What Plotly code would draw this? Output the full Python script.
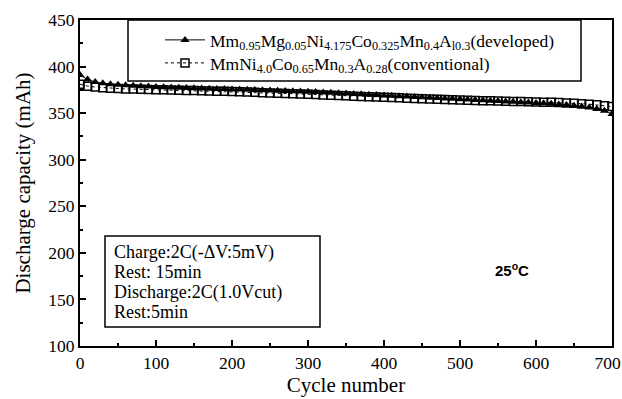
import plotly.graph_objects as go

cycles = list(range(0, 701, 10))

developed = [391, 386, 383.5, 382, 381, 380.5, 380, 379.5, 379, 378.5,
             378, 377.8, 377.5, 377.3, 377, 376.8, 376.5, 376.3, 376, 375.8,
             375.5, 375.3, 375, 374.8, 374.5, 374.3, 374, 373.8, 373.5, 373.2,
             373, 372.6, 372.2, 371.8, 371.4, 371, 370.6, 370.2, 369.8, 369.4,
             369, 368.6, 368.2, 367.8, 367.4, 367, 366.6, 366.2, 365.8, 365.4,
             365, 364.6, 364.2, 363.8, 363.4, 363, 362.6, 362.2, 361.8, 361.4,
             361, 360.5, 360, 359.4, 358.8, 358, 357, 356, 354.5, 352.5, 349]

conventional = [381, 379, 378, 377.3, 376.8, 376.4, 376, 375.8, 375.6, 375.4,
                375.2, 375, 374.8, 374.6, 374.4, 374.2, 374, 373.8, 373.6, 373.4,
                373.2, 372.9, 372.6, 372.3, 372, 371.7, 371.4, 371.1, 370.8, 370.5,
                370.2, 369.9, 369.6, 369.3, 369, 368.6, 368.2, 367.9, 367.6, 367.3,
                367, 366.7, 366.4, 366.1, 365.8, 365.5, 365.2, 364.9, 364.6, 364.3,
                364, 363.8, 363.6, 363.4, 363.2, 363, 362.8, 362.6, 362.4, 362.2,
                362, 361.8, 361.6, 361.3, 361, 360.6, 360.2, 359.6, 359, 358, 357]

label_dev = "Mm<sub>0.95</sub>Mg<sub>0.05</sub>Ni<sub>4.175</sub>Co<sub>0.325</sub>Mn<sub>0.4</sub>A<sub>l0.3</sub>(developed)"
label_conv = "MmNi<sub>4.0</sub>Co<sub>0.65</sub>Mn<sub>0.3</sub>A<sub>0.28</sub>(conventional)"

conditions = ["Charge:2C(-ΔV:5mV)", "Rest: 15min", "Discharge:2C(1.0Vcut)", "Rest:5min"]

x_ticks = [0, 100, 200, 300, 400, 500, 600, 700]
x_tick_labels = ["0", "100", "200", "300", "400", "500", "600", "700\u2002"]
y_ticks = [100, 150, 200, 250, 300, 350, 400, 450]

FONT = "Liberation Serif"

# plot-area geometry (pixels) for paper-coordinate placement
W, H = 622, 399
ML, MR, MT, MB = 80, 10, 20, 53
PW, PH = W - ML - MR, H - MT - MB


def px(xp):
    return (xp - ML) / PW


def py(yp):
    return (H - MB - yp) / PH


fig = go.Figure()
fig.add_trace(go.Scatter(
    x=cycles, y=developed, mode="lines+markers", name=label_dev,
    line=dict(color="black", width=1),
    marker=dict(symbol="triangle-up", size=8, color="black"),
    legend="legend", showlegend=True,
))
fig.add_trace(go.Scatter(
    x=cycles, y=conventional, mode="lines+markers", name=label_conv,
    line=dict(color="black", width=1, dash="dot"),
    marker=dict(symbol="square-open", size=8, color="black", line=dict(width=1.5)),
    legend="legend2", showlegend=True,
))

# legend frame
fig.add_shape(type="rect", xref="paper", yref="paper",
              x0=px(128), x1=px(581), y0=py(81), y1=py(20),
              line=dict(color="black", width=1.5), fillcolor="white", layer="above")

# conditions box
fig.add_shape(type="rect", xref="paper", yref="paper",
              x0=px(105), x1=px(320), y0=py(327), y1=py(236),
              line=dict(color="black", width=1.5), fillcolor="white", layer="above")
for i, line in enumerate(conditions):
    fig.add_annotation(
        x=px(112), y=py(252 + 20 * i), xref="paper", yref="paper",
        xanchor="left", yanchor="middle", text=line, showarrow=False,
        font=dict(family=FONT, size=18, color="black"),
    )

fig.add_annotation(
    x=568, y=182, xref="x", yref="y",
    text="<b>25<sup>o</sup>C</b>", showarrow=False,
    font=dict(family="Liberation Sans", size=15, color="black"),
)

axis_common = dict(
    showgrid=False, zeroline=False, showline=True, linecolor="black", linewidth=2,
    mirror=True, ticks="inside", ticklen=6, tickwidth=1.5, tickcolor="black",
    tickfont=dict(family=FONT, size=17.5, color="black"), automargin=False,
    ticklabeloverflow="allow",
)

fig.update_xaxes(
    range=[0, 700], tickvals=x_ticks, ticktext=x_tick_labels,
    minor=dict(ticks="inside", ticklen=3, tickwidth=1.5, dtick=50, tickcolor="black"),
    title=dict(text="Cycle number", font=dict(family=FONT, size=21, color="black"), standoff=2),
    **axis_common,
)
fig.update_yaxes(
    range=[100, 450], tickvals=y_ticks,
    minor=dict(ticks="inside", ticklen=3, tickwidth=1.5, dtick=25, tickcolor="black"),
    title=dict(text="Discharge capacity (mAh)", font=dict(family=FONT, size=21, color="black"), standoff=12),
    **axis_common,
)

legend_common = dict(
    xanchor="left", yanchor="middle", borderwidth=0, bgcolor="rgba(0,0,0,0)",
    font=dict(family=FONT, size=17.5, color="black"), itemwidth=40, visible=True,
)

fig.update_layout(
    width=W, height=H,
    margin=dict(l=ML, r=MR, t=MT, b=MB),
    plot_bgcolor="white", paper_bgcolor="white",
    showlegend=True,
    legend=dict(x=px(160), y=py(40), **legend_common),
    legend2=dict(x=px(160), y=py(63), **legend_common),
)

fig.write_html("out.html", config={"displayModeBar": False},
               post_script="document.body.style.margin='0';")
